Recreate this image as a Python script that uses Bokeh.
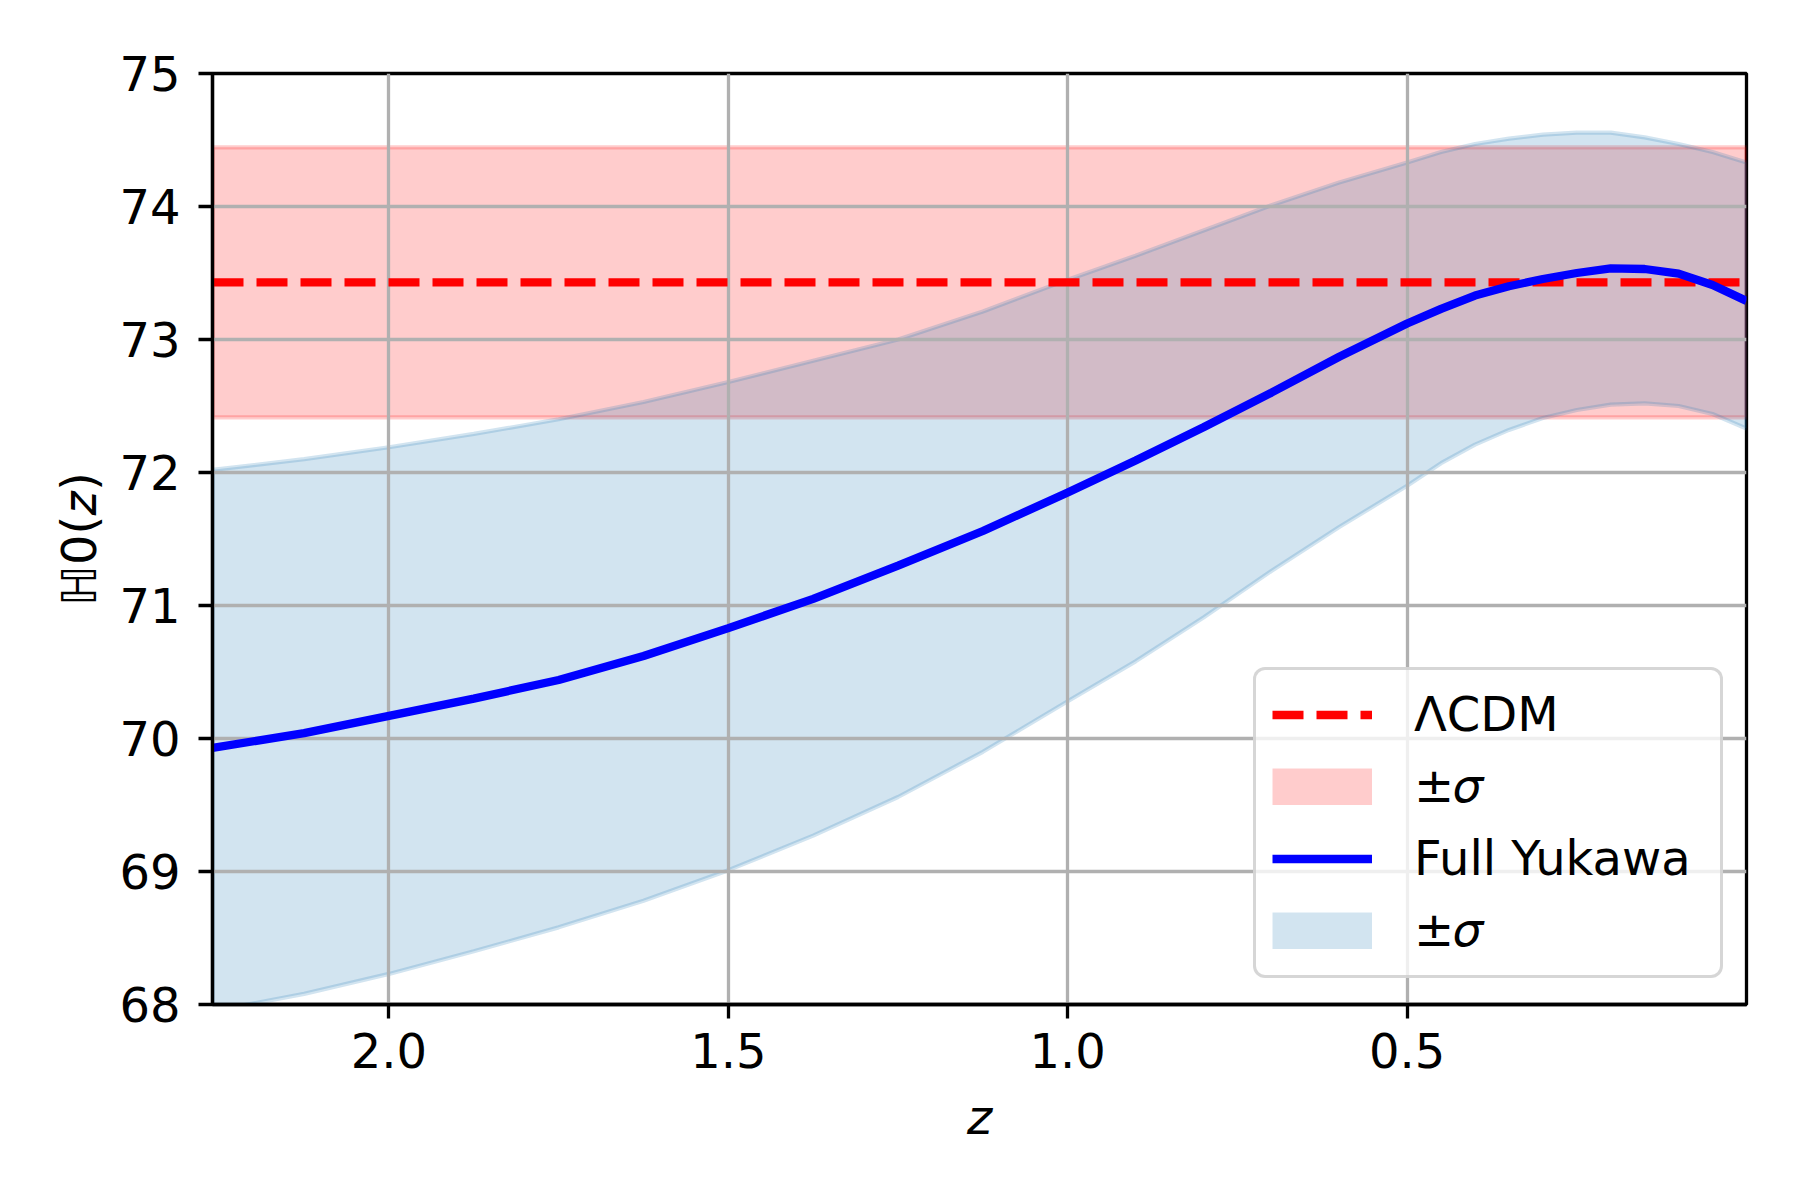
import numpy as np
from bokeh.plotting import figure
from bokeh.models import Range1d, FixedTicker, NumeralTickFormatter, Legend, LegendItem
from bokeh.embed import file_html
from bokeh.resources import INLINE

# ---- data ----
z = [2.26, 2.125, 2.0, 1.875, 1.75, 1.625, 1.5, 1.375, 1.25, 1.125, 1.0,
     0.9, 0.8, 0.7, 0.6, 0.5, 0.45, 0.4, 0.35, 0.3, 0.25, 0.2, 0.15, 0.1,
     0.05, 0.0]
h_yukawa = [69.93, 70.04, 70.17, 70.30, 70.44, 70.62, 70.83, 71.05, 71.30,
            71.56, 71.85, 72.09, 72.34, 72.60, 72.87, 73.12, 73.23, 73.33,
            73.40, 73.455, 73.50, 73.535, 73.53, 73.495, 73.41, 73.29]
h_upper = [72.02, 72.10, 72.19, 72.29, 72.40, 72.53, 72.68, 72.84, 73.00,
           73.21, 73.45, 73.63, 73.82, 74.01, 74.18, 74.33, 74.41, 74.47,
           74.51, 74.54, 74.555, 74.555, 74.52, 74.47, 74.41, 74.33]
h_lower = [67.95, 68.08, 68.23, 68.40, 68.58, 68.78, 69.01, 69.27, 69.56,
           69.90, 70.28, 70.58, 70.91, 71.26, 71.59, 71.90, 72.07, 72.21,
           72.32, 72.41, 72.47, 72.51, 72.52, 72.50, 72.44, 72.33]
lcdm_h0 = 73.43
lcdm_sigma = 1.015
x_ticks = [0.5, 1.0, 1.5, 2.0]
y_ticks = [68, 69, 70, 71, 72, 73, 74, 75]

FONT = "DejaVu Sans"
FS = "48px"
LW_AX = 3.3

zz = np.array(z)
p = figure(width=1784, height=1184, output_backend="svg", toolbar_location=None,
           x_range=Range1d(2.26, 0.0), y_range=Range1d(68, 75),
           min_border_left=212, min_border_right=38, min_border_top=73,
           min_border_bottom=180)
p.background_fill_color = "white"
p.border_fill_color = "white"
p.outline_line_color = "black"
p.outline_line_width = LW_AX
p.outline_line_alpha = 1.0

# bands (drawn below grid)
z_poly = np.concatenate([zz, zz[::-1]])
red_poly = np.concatenate([np.full(len(zz), lcdm_h0 + lcdm_sigma),
                           np.full(len(zz), lcdm_h0 - lcdm_sigma)])
blue_poly = np.concatenate([np.array(h_upper), np.array(h_lower)[::-1]])

p.patch(z_poly, red_poly, fill_color="red", fill_alpha=0.2,
        line_color="red", line_alpha=0.2, line_width=4.2, level="image")
p.patch(z_poly, blue_poly, fill_color="#1f77b4", fill_alpha=0.2,
        line_color="#1f77b4", line_alpha=0.2, line_width=4.2, level="image")

r_lcdm = p.line(zz, np.full(len(zz), lcdm_h0), line_color="red", line_width=8.3,
                line_dash="31 13")
r_yuk = p.line(zz, h_yukawa, line_color="blue", line_width=8.3)

# hidden legend swatches for the two bands (full-size rectangles in the legend)
r_red_sw = p.line(zz, np.full(len(zz), lcdm_h0 + lcdm_sigma), line_color="red",
                  line_alpha=0.2, line_width=37, visible=False)
r_blue_sw = p.line(zz, h_upper, line_color="#1f77b4", line_alpha=0.2,
                   line_width=37, visible=False)

# axes
for ax in (p.xaxis[0], p.yaxis[0]):
    ax.axis_line_width = LW_AX
    ax.axis_line_color = "black"
    ax.major_tick_line_width = LW_AX
    ax.major_tick_out = 14
    ax.major_tick_in = 0
    ax.minor_tick_out = 0
    ax.minor_tick_in = 0
    ax.major_label_text_font = FONT
    ax.major_label_text_font_size = FS
    ax.major_label_text_color = "black"
    ax.axis_label_text_font = FONT
    ax.axis_label_text_font_size = FS
    ax.axis_label_text_color = "black"

p.xaxis.ticker = FixedTicker(ticks=x_ticks)
p.xaxis.formatter = NumeralTickFormatter(format="0.0")
p.yaxis.ticker = FixedTicker(ticks=y_ticks)
p.xaxis.axis_label = "z"
p.xaxis.axis_label_text_font_style = "italic"
p.yaxis.axis_label = "ℍ0(𝑧)"
p.yaxis.axis_label_text_font_style = "normal"
p.xaxis.major_label_standoff = 14
p.yaxis.major_label_standoff = 18
p.xaxis.axis_label_standoff = 18
p.yaxis.axis_label_standoff = 9

p.grid.grid_line_color = "#b0b0b0"
p.grid.grid_line_width = LW_AX
p.xgrid.ticker = FixedTicker(ticks=x_ticks)
p.ygrid.ticker = FixedTicker(ticks=y_ticks)

legend = Legend(items=[
    LegendItem(label="ΛCDM", renderers=[r_lcdm]),
    LegendItem(label="±𝜎", renderers=[r_red_sw]),
    LegendItem(label="Full Yukawa", renderers=[r_yuk]),
    LegendItem(label="±𝜎", renderers=[r_blue_sw]),
], location=(1041, 26))
legend.label_text_font = FONT
legend.label_text_font_size = FS
legend.label_text_color = "black"
legend.glyph_width = 100
legend.glyph_height = 37
legend.label_height = 56
legend.label_width = 290
legend.label_standoff = 42
legend.spacing = 15
legend.padding = 16
legend.margin = 0
legend.inactive_fill_alpha = 0.0
legend.border_line_color = "#cccccc"
legend.border_line_alpha = 0.8
legend.border_line_width = 3.3
legend.border_radius = 12
legend.background_fill_color = "white"
legend.background_fill_alpha = 0.8
p.add_layout(legend, "center")

open("out.html", "w").write(file_html(p, INLINE))
